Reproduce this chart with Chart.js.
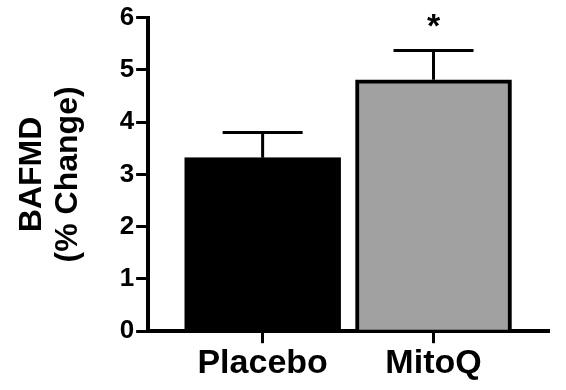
<!DOCTYPE html>
<html>
<head>
<meta charset="utf-8">
<script src="https://cdn.jsdelivr.net/npm/chart.js@4.4.1/dist/chart.umd.min.js"></script>
<style>
  html, body { margin: 0; padding: 0; background: #fff; }
  #wrap { width: 566px; height: 390px; }
</style>
</head>
<body>
<div id="wrap"><canvas id="bafmdChart"></canvas></div>
<script>
// Data
const groups = ['Placebo', 'MitoQ'];
const groupPos = [1, 2];
const means = [3.32, 4.81];
const sems = [0.48, 0.56];
const marks = ['', '*'];
const yTicks = [0, 1, 2, 3, 4, 5, 6];

const FONT = '"Liberation Sans", Arial, sans-serif';

// Error bars + significance marks
const errorBars = {
    id: 'errorBars',
    afterDatasetsDraw(chart) {
        const ctx = chart.ctx;
        const x = chart.scales.x, y = chart.scales.y;
        ctx.save();
        ctx.strokeStyle = '#000';
        ctx.lineWidth = 3;
        groupPos.forEach((p, i) => {
            const cx = x.getPixelForValue(p);
            const top = y.getPixelForValue(means[i] + sems[i]);
            const base = y.getPixelForValue(means[i]);
            ctx.beginPath();
            ctx.moveTo(cx, base);
            ctx.lineTo(cx, top);
            ctx.moveTo(cx - 40, top);
            ctx.lineTo(cx + 40, top);
            ctx.stroke();
            if (marks[i]) {
                ctx.fillStyle = '#000';
                ctx.font = 'bold 34px ' + FONT;
                ctx.textAlign = 'center';
                ctx.textBaseline = 'alphabetic';
                ctx.fillText(marks[i], cx, top - 14);
            }
        });
        ctx.restore();
    }
};

const ctx = document.getElementById('bafmdChart').getContext('2d');
const bafmdChart = new Chart(ctx, {
    type: 'bar',
    data: {
        datasets: [{
            data: groupPos.map((p, i) => ({ x: p, y: means[i] })),
            backgroundColor: ['#000000', '#a1a1a1'],
            borderColor: '#000000',
            borderWidth: 4,
            barThickness: 156
        }]
    },
    options: {
        responsive: true,
        maintainAspectRatio: false,
        animation: false,
        layout: {
            padding: { left: 14, right: 18, top: 8, bottom: 6 }
        },
        plugins: {
            legend: { display: false },
            tooltip: { enabled: false }
        },
        scales: {
            x: {
                type: 'linear',
                offset: false,
                min: 0.33,
                max: 2.67,
                afterBuildTicks: function(scale) {
                    scale.ticks = groupPos.map(v => ({ value: v }));
                },
                grid: {
                    offset: false,
                    drawOnChartArea: false,
                    drawTicks: true,
                    tickLength: 12,
                    color: '#000',
                    lineWidth: 3
                },
                border: { color: '#000', width: 4 },
                ticks: {
                    color: '#000',
                    padding: 0,
                    maxRotation: 0,
                    autoSkip: false,
                    font: { family: FONT, size: 34, weight: 'bold' },
                    callback: function(value) {
                        const i = groupPos.indexOf(value);
                        return i >= 0 ? groups[i] : '';
                    }
                }
            },
            y: {
                min: 0,
                max: 6,
                afterBuildTicks: function(scale) {
                    scale.ticks = yTicks.map(v => ({ value: v }));
                },
                grid: {
                    drawOnChartArea: false,
                    drawTicks: true,
                    tickLength: 12,
                    color: '#000',
                    lineWidth: 3
                },
                border: { color: '#000', width: 4 },
                ticks: {
                    color: '#000',
                    padding: 2,
                    font: { family: FONT, size: 26, weight: 'bold' }
                },
                title: {
                    display: true,
                    text: ['BAFMD', '(% Change)'],
                    color: '#000',
                    padding: { top: 0, bottom: 32 },
                    font: { family: FONT, size: 32, weight: 'bold', lineHeight: 1.12 }
                }
            }
        }
    },
    plugins: [errorBars]
});
</script>
</body>
</html>
